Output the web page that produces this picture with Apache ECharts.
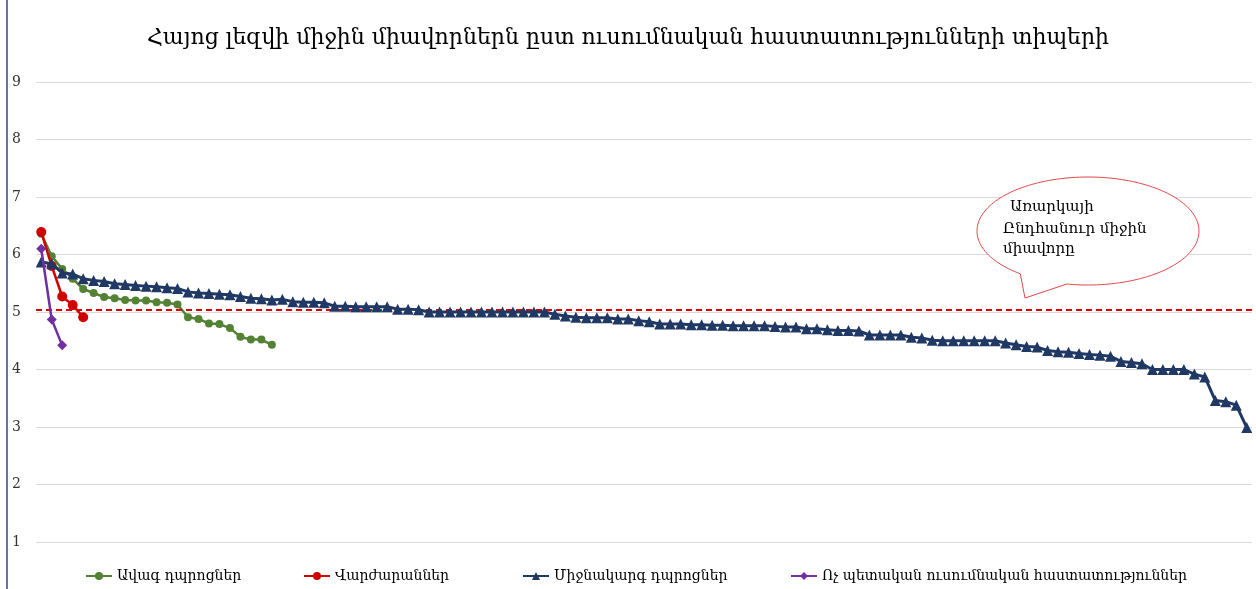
<!DOCTYPE html>
<html>
<head>
<meta charset="utf-8">
<script src="https://cdn.jsdelivr.net/npm/echarts@6/dist/echarts.min.js"></script>
<style>html,body{margin:0;padding:0;background:#fff;}#c{width:1256px;height:589px;}</style>
</head>
<body>
<div id="c"></div>
<script>
const titleText = 'Հայոց լեզվի միջին միավորներն ըստ ուսումնական հաստատությունների տիպերի';
const seriesNames = ['Ավագ դպրոցներ', 'Վարժարաններ', 'Միջնակարգ դպրոցներ', 'Ոչ պետական ուսումնական հաստատություններ'];
const calloutLines = ['Առարկայի', 'Ընդհանուր միջին', 'միավորը'];
const avgLine = 5.04;

const seniorSchools = [6.36, 5.97, 5.75, 5.58, 5.40, 5.33, 5.26, 5.24, 5.21, 5.20, 5.20, 5.17, 5.16, 5.13, 4.91, 4.88, 4.80, 4.79, 4.72, 4.57, 4.52, 4.52, 4.43];
const gymnasiums = [6.39, 5.80, 5.27, 5.12, 4.91];
const secondarySchools = [
  5.87, 5.84, 5.68, 5.66, 5.58, 5.55, 5.53, 5.49, 5.48, 5.46,
  5.45, 5.44, 5.42, 5.41, 5.35, 5.33, 5.32, 5.31, 5.30, 5.27,
  5.24, 5.23, 5.21, 5.22, 5.18, 5.17, 5.17, 5.16, 5.10, 5.10,
  5.09, 5.09, 5.09, 5.09, 5.05, 5.05, 5.04, 5.00, 5.00, 5.00,
  5.00, 5.00, 5.00, 5.00, 5.00, 5.00, 5.00, 5.00, 5.00, 4.96,
  4.93, 4.91, 4.90, 4.90, 4.90, 4.88, 4.88, 4.85, 4.83, 4.79,
  4.79, 4.79, 4.78, 4.78, 4.77, 4.77, 4.76, 4.76, 4.76, 4.76,
  4.75, 4.74, 4.74, 4.71, 4.71, 4.69, 4.68, 4.68, 4.67, 4.60,
  4.60, 4.60, 4.60, 4.56, 4.55, 4.51, 4.50, 4.50, 4.50, 4.50,
  4.50, 4.50, 4.46, 4.43, 4.40, 4.39, 4.33, 4.31, 4.30, 4.28,
  4.26, 4.25, 4.23, 4.14, 4.12, 4.10, 4.00, 4.00, 4.00, 4.00,
  3.92, 3.87, 3.46, 3.44, 3.38, 2.99
];
const privateInstitutions = [6.10, 4.87, 4.42];
const categories = secondarySchools.map((_, i) => String(i + 1));
const yTicks = [1, 9, 1]; // min, max, interval

const FONT = '"DejaVu Serif", serif';
const colors = ['#548235', '#d00000', '#203864', '#7030a0'];

// callout balloon shape (decoration)
function balloon() {
  const cx = 1088, cy = 231, rx = 111, ry = 54;
  const pts = [];
  const a0 = 127.6, a1 = 461;
  for (let a = a0; a <= a1; a += 2) {
    const r = a * Math.PI / 180;
    pts.push([cx + rx * Math.cos(r), cy + ry * Math.sin(r)]);
  }
  const r1 = a1 * Math.PI / 180;
  pts.push([cx + rx * Math.cos(r1), cy + ry * Math.sin(r1)]);
  pts.push([1025, 298]);
  return pts;
}

const chart = echarts.init(document.getElementById('c'), null, {renderer: 'canvas'});
const mk = (name, data, color, symbol, size, width, z) => ({
  name, type: 'line', data, symbol, symbolSize: size, z,
  showSymbol: true, showAllSymbol: true, animation: false,
  lineStyle: {color, width},
  itemStyle: {color, borderWidth: 0},
  emphasis: {disabled: true}
});
const s1 = mk(seriesNames[0], seniorSchools, colors[0], 'circle', 8, 2.5, 3);
s1.markLine = {
  silent: true, symbol: ['none', 'none'], animation: false,
  label: {show: false},
  lineStyle: {color: '#e00000', type: [6, 4], width: 2},
  data: [{yAxis: avgLine}]
};
const series = [
  s1,
  mk(seriesNames[1], gymnasiums, colors[1], 'circle', 10, 2.5, 4),
  mk(seriesNames[2], secondarySchools, colors[2], 'triangle', 11, 3, 5),
  mk(seriesNames[3], privateInstitutions, colors[3], 'diamond', 10, 2.5, 6)
];
const legendLeft = [80, 298, 517, 785];
const legend = seriesNames.map((n, i) => ({
  data: [n], left: legendLeft[i], top: 564, itemWidth: 26, itemHeight: 10, itemGap: 4,
  selectedMode: false,
  textStyle: {fontFamily: FONT, fontSize: 14, color: '#000'}
}));

chart.setOption({
  backgroundColor: '#fff',
  animation: false,
  title: {
    text: titleText, left: 'center', top: 22,
    textStyle: {fontFamily: FONT, fontSize: 22, fontWeight: 'normal', color: '#000'}
  },
  legend,
  grid: {left: 36, right: 4, top: 82, bottom: 47, containLabel: false},
  xAxis: {
    type: 'category', data: categories, boundaryGap: true,
    axisLabel: {show: false}, axisTick: {show: false}, axisLine: {show: false}
  },
  yAxis: {
    type: 'value', min: yTicks[0], max: yTicks[1], interval: yTicks[2],
    axisLine: {show: false}, axisTick: {show: false},
    axisLabel: {color: '#333', fontSize: 14, fontFamily: FONT, margin: 15},
    splitLine: {lineStyle: {color: '#d9d9d9', width: 1}}
  },
  series,
  graphic: [
    {type: 'line', shape: {x1: 7, y1: 0, x2: 7, y2: 589}, style: {stroke: '#2e4a7a', lineWidth: 1.5}, silent: true},
    {type: 'polygon', shape: {points: balloon()}, style: {fill: '#fff', stroke: '#e04848', lineWidth: 1}, silent: true, z: 100},
    {type: 'text', left: 1010, top: 200, style: {text: calloutLines[0], font: '15px ' + FONT, fill: '#000'}, z: 101, silent: true},
    {type: 'text', left: 1003, top: 222, style: {text: calloutLines[1], font: '15px ' + FONT, fill: '#000'}, z: 101, silent: true},
    {type: 'text', left: 1003, top: 242, style: {text: calloutLines[2], font: '15px ' + FONT, fill: '#000'}, z: 101, silent: true}
  ]
});
</script>
</body>
</html>
